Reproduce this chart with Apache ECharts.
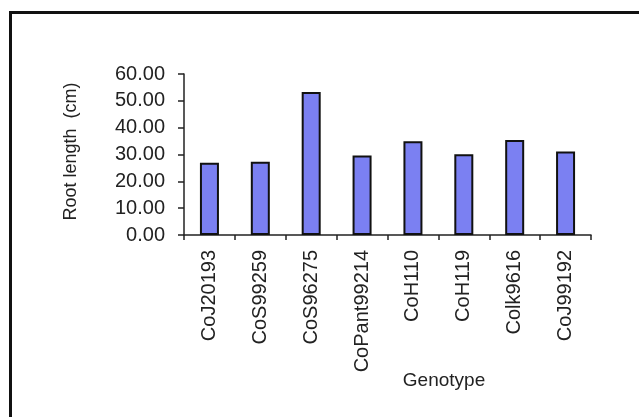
<!DOCTYPE html>
<html>
<head>
<meta charset="utf-8">
<script src="https://cdn.jsdelivr.net/npm/echarts@6/dist/echarts.min.js"></script>
<style>
html,body{margin:0;padding:0;background:#fff;}
#c{width:639px;height:417px;}
</style>
</head>
<body>
<div id="c"></div>
<script>
var categories = ['CoJ20193','CoS99259','CoS96275','CoPant99214','CoH110','CoH119','Colk9616','CoJ99192'];
var rootLength = [26.9, 27.3, 53.3, 29.6, 34.9, 30.1, 35.4, 31.1];
var yTicks = [0, 10, 20, 30, 40, 50, 60];
var yAxisTitle = 'Root length  (cm)';
var xAxisTitle = 'Genotype';

var font = '"Liberation Sans", Arial, sans-serif';
var chart = echarts.init(document.getElementById('c'));
chart.setOption({
  animation: false,
  backgroundColor: '#fff',
  grid: {left: 184, right: 48, top: 74, bottom: 182},
  xAxis: {
    type: 'category',
    data: categories,
    axisLine: {lineStyle: {color: '#222', width: 1.5}},
    axisTick: {show: true, length: 5, lineStyle: {color: '#222', width: 1.5}},
    axisLabel: {rotate: 90, margin: 15, color: '#222', fontFamily: font, fontSize: 20}
  },
  yAxis: {
    type: 'value',
    min: yTicks[0],
    max: yTicks[yTicks.length - 1],
    interval: 10,
    splitLine: {show: false},
    axisLine: {show: true, lineStyle: {color: '#222', width: 1.5}},
    axisTick: {show: true, length: 6, lineStyle: {color: '#222', width: 1.5}},
    axisLabel: {margin: 19, color: '#222', fontFamily: font, fontSize: 20,
      formatter: function (v) { return v.toFixed(2); }}
  },
  series: [{
    type: 'bar',
    data: rootLength,
    barWidth: 19,
    itemStyle: {color: '#7b80f2', borderColor: '#111', borderWidth: 2}
  }],
  graphic: [
    {type: 'rect', shape: {x: 10.5, y: 12.5, width: 700, height: 500},
      style: {fill: 'none', stroke: '#111', lineWidth: 3}},
    {type: 'text', x: 71, y: 151.5, rotation: Math.PI / 2,
      style: {text: yAxisTitle, fill: '#222', font: '18px ' + font, textAlign: 'center', textVerticalAlign: 'middle'}},
    {type: 'text', x: 444, y: 381,
      style: {text: xAxisTitle, fill: '#222', font: '19px ' + font, textAlign: 'center', textVerticalAlign: 'middle'}}
  ]
});
</script>
</body>
</html>
